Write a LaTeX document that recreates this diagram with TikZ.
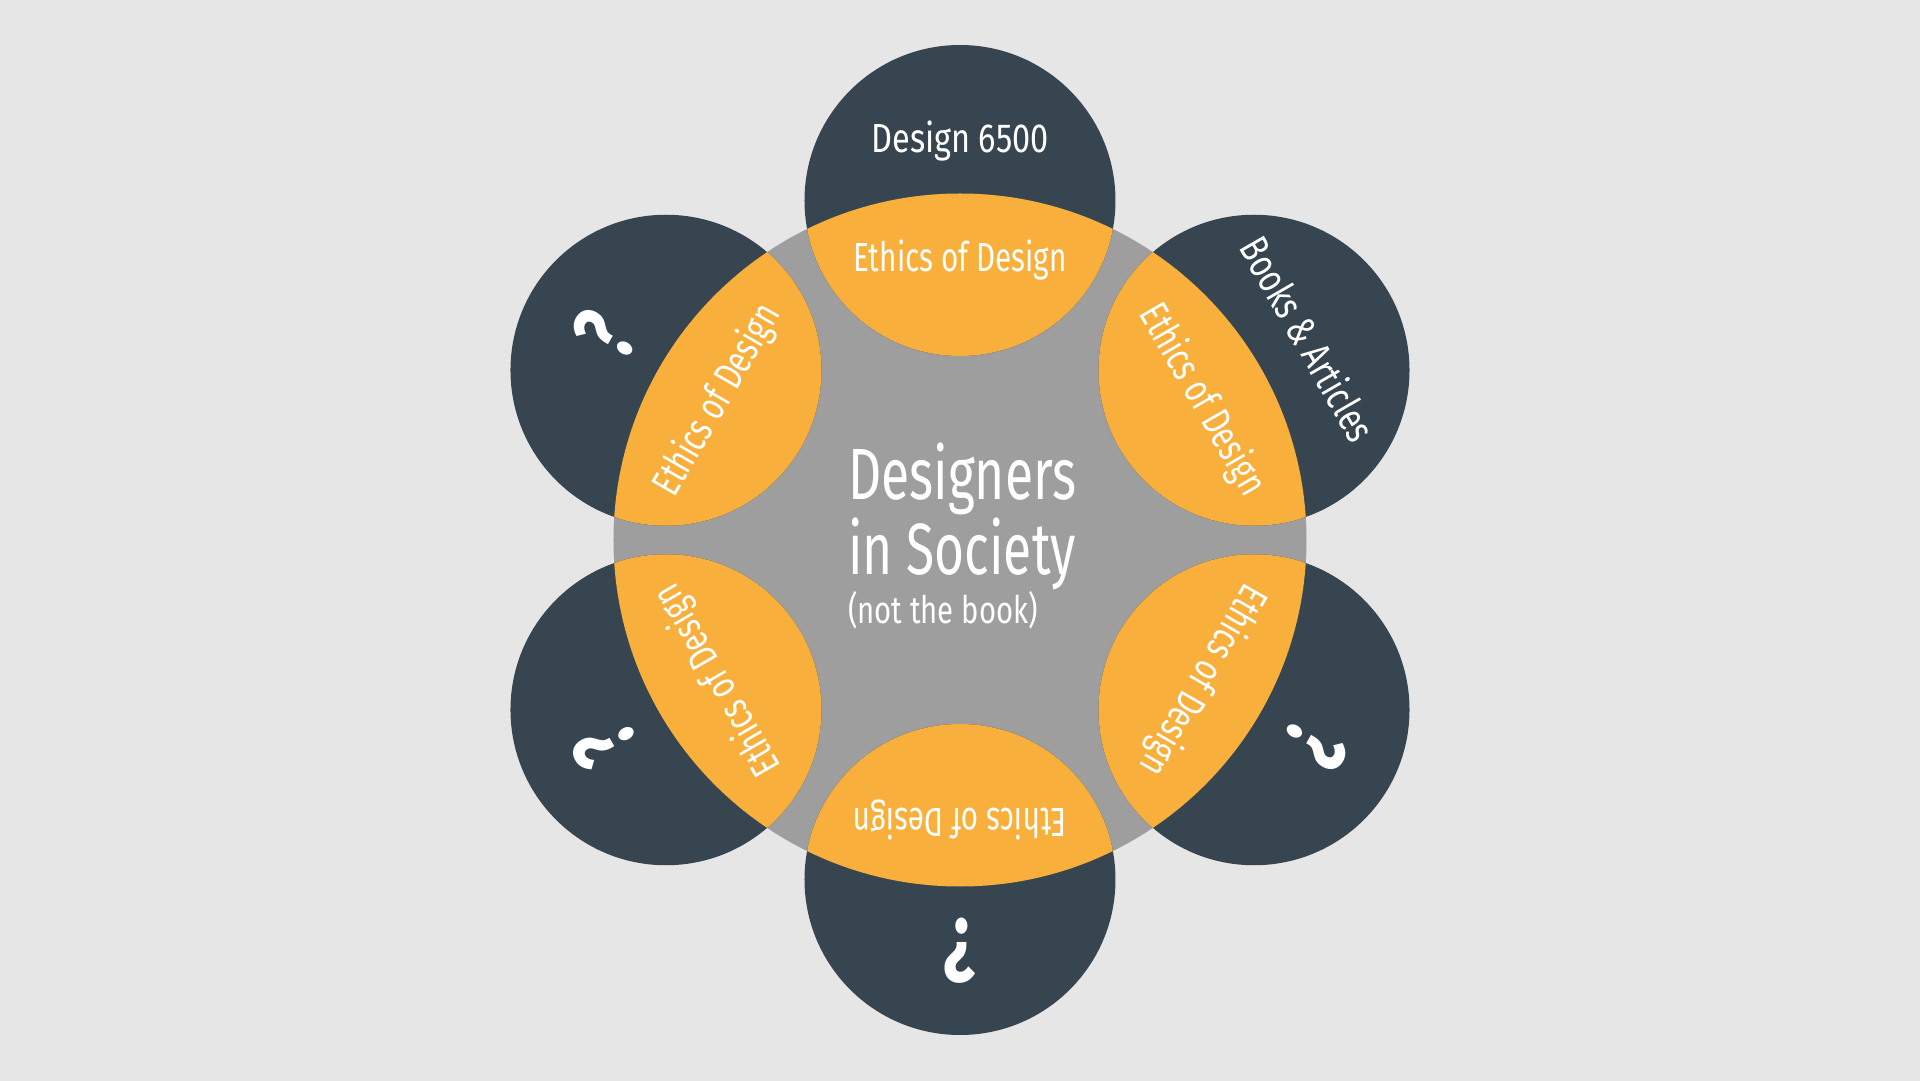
\documentclass[tikz,border=0pt]{standalone}
\usepackage{fontspec}
\usepackage{graphicx}
\setmainfont{Fira Sans}
\newcommand{\narrowtxt}[2][0.72]{\scalebox{#1}[1]{#2}}
\definecolor{bgc}{HTML}{E6E6E6}
\definecolor{hubc}{HTML}{9E9E9E}
\definecolor{darkc}{HTML}{36454F}
\definecolor{orc}{HTML}{F9AF3B}
\tikzset{
  lab/.style={text=white, inner sep=0pt, font=\fontsize{40.6}{45}\selectfont},
  qmark/.style={text=white, inner sep=0pt, font=\fontsize{90}{95}\selectfont\bfseries},
  title/.style={text=white, inner sep=0pt, anchor=base west, font=\fontsize{72.6}{75}\selectfont},
  subtitle/.style={text=white, inner sep=0pt, anchor=base west, font=\fontsize{38}{40}\selectfont},
}
\begin{document}
\begin{tikzpicture}[x=1pt,y=1pt]
\useasboundingbox (-960,-541) rectangle (960,540);
\fill[bgc] (-960,-541) rectangle (960,540);
% hub
\fill[hubc] (0,0) circle (346.5);
% petals
\foreach \ang in {90,30,-30,-90,-150,150}{
  \fill[darkc] (\ang:339.5) circle (155.5);
}
\begin{scope}
  \clip (0,0) circle (346.5);
  \foreach \ang in {90,30,-30,-90,-150,150}{
    \fill[orc] (\ang:339.5) circle (155.5);
  }
\end{scope}
% inner labels
\foreach \ang [count=\i] in {90,30,-30,-90,-150,150}{
  \node[lab, anchor=base, rotate=\ang-90] (in\i) at (\ang:268) {\narrowtxt[0.73]{Ethics of Design}};
}
% outer labels
\node[lab, anchor=base, rotate=0] (out1) at (90:387) {\narrowtxt[0.8]{Design 6500}};
\node[lab, anchor=base, rotate=-60] (out2) at (30:387) {\narrowtxt[0.76]{Books \& Articles}};
\foreach \ang [count=\i from 3] in {-30,-90,-150,150}{
  \node[qmark, anchor=base, rotate=\ang-90] (out\i) at (\ang:379) {\narrowtxt[0.75]{?}};
}
% centre title
\node[title] (t1) at (-112,40) {\narrowtxt[0.71]{Designers}};
\node[title] (t2) at (-112,-35) {\narrowtxt[0.71]{in Society}};
\node[subtitle] (t3) at (-112,-84) {\narrowtxt[0.77]{(not the book)}};
\end{tikzpicture}
\end{document}
